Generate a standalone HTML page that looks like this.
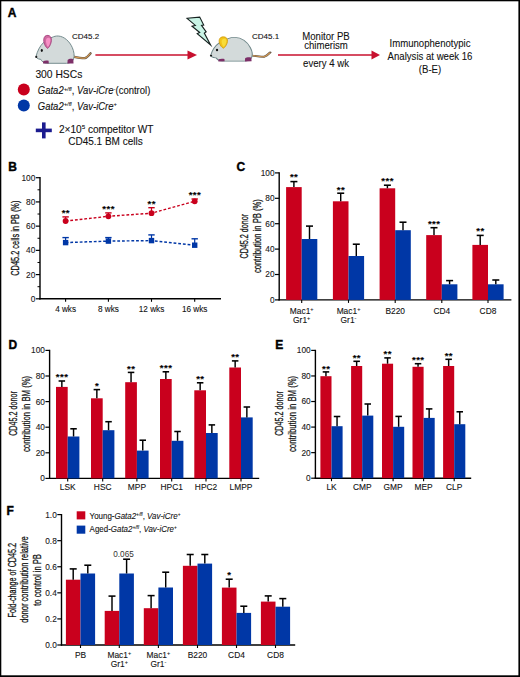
<!DOCTYPE html>
<html><head><meta charset="utf-8"><style>
html,body{margin:0;padding:0;background:#fff;width:520px;height:677px;overflow:hidden;}
svg{display:block;font-family:"Liberation Sans", sans-serif;}
text{stroke:#111;stroke-width:0.1px;}
text.hv{stroke:#111;stroke-width:0.28px;paint-order:stroke;}
</style></head><body>
<svg width="520" height="677" viewBox="0 0 520 677" font-family='"Liberation Sans", sans-serif'>
<rect x="0" y="0" width="520" height="677" fill="#fff"/>
<text x="7.8" y="16.8" font-size="12" text-anchor="start" font-weight="bold" font-style="normal" fill="#000" style="stroke:#000;stroke-width:0.4px">A</text>
<g transform="translate(0,0)">
<path d="M73.2,56.6 C77,57.4 82,58.4 85,58.2 C87,57.6 88.8,55.5 90.6,53.3" fill="none" stroke="#5e5346" stroke-width="2.3" stroke-linecap="round" stroke-linejoin="round"/>
<path d="M73.2,56.6 C77,57.4 82,58.4 85,58.2 C87,57.6 88.6,55.6 90.2,53.7" fill="none" stroke="#d49a55" stroke-width="1.2" stroke-linecap="round"/>
<path d="M36,56.6 C37.2,51.5 39.8,46 43.5,42.6 C46,39.6 49,38.1 52,37.4 C54,36.4 56,35.9 58.2,36 C64,36.4 69.4,41 72.3,47.6 C74,51.6 74.7,55.8 73.6,59 C72.6,61.8 70.2,63.2 66.5,63.3 L46.5,63.3 C43.5,63.2 41.8,61.2 40.8,59.4 C39.3,59.3 37.8,58.8 36.8,58 C36.2,57.6 35.9,57.1 36,56.6 Z" fill="#d3dada" stroke="#6f8789" stroke-width="0.95"/>
<path d="M44.2,37.6 C45,35.4 47.5,34.8 49.6,35.9 C51.6,37 51.8,40 51,42.8 C50.3,45.3 49,47.6 47.6,48.4 C46,47.4 44.6,45 44,42.4 C43.6,40.6 43.6,38.9 44.2,37.6 Z" fill="#cf6aa0" stroke="#a03878" stroke-width="0.8"/>
<path d="M46.6,38.5 C47.6,37.3 49.6,37.4 50.2,39 C50.7,40.6 50.1,43.3 49.1,45.3 C48.6,46.3 48,46.8 47.6,46.6 C46.8,45.4 46.2,43.2 46,41.4 C45.9,40.2 46.1,39.2 46.6,38.5 Z" fill="#f890c6"/>
<ellipse cx="41.8" cy="50.5" rx="1.05" ry="1.4" fill="#111"/>
<circle cx="36.3" cy="56.9" r="1.05" fill="#1a1a1a"/>
<path d="M43.2,61.2 C44.5,60.3 47,60.2 48.6,60.8 L48.8,63.4 L43,63.5 Z" fill="#7d2f68"/>
<path d="M67.6,60 C68.8,58.6 71.6,58.4 73.3,59.2 L73.5,63.4 L67.4,63.5 Z" fill="#7d2f68"/>
</g>
<text x="72" y="38.6" font-size="8" text-anchor="start" font-weight="normal" font-style="normal" fill="#111" >CD45.2</text>
<text x="35.4" y="78" font-size="10.3" text-anchor="start" font-weight="normal" font-style="normal" fill="#111" >300 HSCs</text>
<line x1="95.4" y1="55" x2="189" y2="55" stroke="#c8102e" stroke-width="1.5" />
<path d="M187.5,50.4 L197,55 L187.5,59.6 Z" fill="#c8102e"/>
<path d="M187.1,18.3 L199.7,17.1 L203.7,25.1 L201.5,25.4 L206.2,31.8 L204.3,33.1 L210.6,44.9 L197.2,33.7 L199.7,32.5 L192,26.3 L195.4,25.4 Z" fill="#c9f4e6" stroke="#16211f" stroke-width="1.1" stroke-linejoin="miter" stroke-miterlimit="6"/>
<g transform="translate(171.46,6.006) scale(1.09,0.872)">
<path d="M73.2,56.6 C77,57.4 82,58.4 85,58.2 C87,57.6 88.8,55.5 90.6,53.3" fill="none" stroke="#5e5346" stroke-width="2.3" stroke-linecap="round" stroke-linejoin="round"/>
<path d="M73.2,56.6 C77,57.4 82,58.4 85,58.2 C87,57.6 88.6,55.6 90.2,53.7" fill="none" stroke="#d49a55" stroke-width="1.2" stroke-linecap="round"/>
<path d="M36,56.6 C37.2,51.5 39.8,46 43.5,42.6 C46,39.6 49,38.1 52,37.4 C54,36.4 56,35.9 58.2,36 C64,36.4 69.4,41 72.3,47.6 C74,51.6 74.7,55.8 73.6,59 C72.6,61.8 70.2,63.2 66.5,63.3 L46.5,63.3 C43.5,63.2 41.8,61.2 40.8,59.4 C39.3,59.3 37.8,58.8 36.8,58 C36.2,57.6 35.9,57.1 36,56.6 Z" fill="#d3dada" stroke="#6f8789" stroke-width="0.95"/>
<path d="M44.2,37.6 C45,35.4 47.5,34.8 49.6,35.9 C51.6,37 51.8,40 51,42.8 C50.3,45.3 49,47.6 47.6,48.4 C46,47.4 44.6,45 44,42.4 C43.6,40.6 43.6,38.9 44.2,37.6 Z" fill="#f2c418" stroke="#d09a10" stroke-width="0.8"/>
<path d="M46.6,38.5 C47.6,37.3 49.6,37.4 50.2,39 C50.7,40.6 50.1,43.3 49.1,45.3 C48.6,46.3 48,46.8 47.6,46.6 C46.8,45.4 46.2,43.2 46,41.4 C45.9,40.2 46.1,39.2 46.6,38.5 Z" fill="#f8dc3a"/>
<ellipse cx="41.8" cy="50.5" rx="1.05" ry="1.4" fill="#111"/>
<circle cx="36.3" cy="56.9" r="1.05" fill="#1a1a1a"/>
<path d="M43.2,61.2 C44.5,60.3 47,60.2 48.6,60.8 L48.8,63.4 L43,63.5 Z" fill="#7d2f68"/>
<path d="M67.6,60 C68.8,58.6 71.6,58.4 73.3,59.2 L73.5,63.4 L67.4,63.5 Z" fill="#7d2f68"/>
</g>
<text x="252" y="38.6" font-size="8" text-anchor="start" font-weight="normal" font-style="normal" fill="#111" >CD45.1</text>
<line x1="278" y1="55.1" x2="373" y2="55.1" stroke="#c8102e" stroke-width="1.5" />
<path d="M371.5,50.6 L380,55.1 L371.5,59.6 Z" fill="#c8102e"/>
<text transform="translate(326,40.2) scale(0.873,1)" font-size="11" text-anchor="middle" fill="#111">Monitor PB</text>
<text transform="translate(326,48.6) scale(0.873,1)" font-size="11" text-anchor="middle" fill="#111">chimerism</text>
<text transform="translate(326,67.0) scale(0.873,1)" font-size="11" text-anchor="middle" fill="#111">every 4 wk</text>
<text transform="translate(430,46.8) scale(0.873,1)" font-size="11" text-anchor="middle" fill="#111">Immunophenotypic</text>
<text transform="translate(430,59.7) scale(0.873,1)" font-size="11" text-anchor="middle" fill="#111">Analysis at week 16</text>
<text transform="translate(430,72.5) scale(0.873,1)" font-size="11" text-anchor="middle" fill="#111">(B-E)</text>
<circle cx="23.8" cy="89.4" r="6" fill="#c9001d"/>
<circle cx="23.8" cy="105.6" r="6" fill="#0037a6"/>
<g transform="translate(37.8,94.3) scale(0.95,1)"><text x="0" y="0" font-size="10" fill="#111"><tspan font-style="italic">Gata2</tspan><tspan font-size="6.2" dy="-3.7" font-style="italic">+/fl</tspan><tspan dy="3.7">, </tspan><tspan font-style="italic">Vav-iCre</tspan><tspan font-size="6.2" dy="-3.7">-</tspan><tspan dy="3.7">(control)</tspan></text></g>
<g transform="translate(37.8,110.1) scale(0.95,1)"><text x="0" y="0" font-size="10" fill="#111"><tspan font-style="italic">Gata2</tspan><tspan font-size="6.2" dy="-3.7" font-style="italic">+/fl</tspan><tspan dy="3.7">, </tspan><tspan font-style="italic">Vav-iCre</tspan><tspan font-size="6.2" dy="-3.7">+</tspan></text></g>
<rect x="35.8" y="128.6" width="16" height="3.6" fill="#1b1b8f"/>
<rect x="42" y="122.4" width="3.6" height="16" fill="#1b1b8f"/>
<text x="58.9" y="133" font-size="10.1" fill="#111">2×10<tspan font-size="6.2" dy="-3.7">5</tspan><tspan dy="3.7"> competitor WT</tspan></text>
<text x="105.5" y="145.2" font-size="10" text-anchor="middle" font-weight="normal" font-style="normal" fill="#111" >CD45.1 BM cells</text>
<text x="8.2" y="171" font-size="12" text-anchor="start" font-weight="bold" font-style="normal" fill="#000" style="stroke:#000;stroke-width:0.4px">B</text>
<line x1="40" y1="177.1" x2="40" y2="299.40000000000003" stroke="#000" stroke-width="1.4" />
<line x1="35.8" y1="298.8" x2="40" y2="298.8" stroke="#000" stroke-width="1.2" />
<text x="35.3" y="301.7714" font-size="8.3" text-anchor="end" font-weight="normal" font-style="normal" fill="#1a1a1a" >0</text>
<line x1="35.8" y1="274.58" x2="40" y2="274.58" stroke="#000" stroke-width="1.2" />
<text x="35.3" y="277.5514" font-size="8.3" text-anchor="end" font-weight="normal" font-style="normal" fill="#1a1a1a" >20</text>
<line x1="35.8" y1="250.36" x2="40" y2="250.36" stroke="#000" stroke-width="1.2" />
<text x="35.3" y="253.3314" font-size="8.3" text-anchor="end" font-weight="normal" font-style="normal" fill="#1a1a1a" >40</text>
<line x1="35.8" y1="226.14" x2="40" y2="226.14" stroke="#000" stroke-width="1.2" />
<text x="35.3" y="229.11139999999997" font-size="8.3" text-anchor="end" font-weight="normal" font-style="normal" fill="#1a1a1a" >60</text>
<line x1="35.8" y1="201.92" x2="40" y2="201.92" stroke="#000" stroke-width="1.2" />
<text x="35.3" y="204.89139999999998" font-size="8.3" text-anchor="end" font-weight="normal" font-style="normal" fill="#1a1a1a" >80</text>
<line x1="35.8" y1="177.7" x2="40" y2="177.7" stroke="#000" stroke-width="1.2" />
<text x="35.3" y="180.67139999999998" font-size="8.3" text-anchor="end" font-weight="normal" font-style="normal" fill="#1a1a1a" >100</text>
<line x1="37.5" y1="286.69" x2="40" y2="286.69" stroke="#000" stroke-width="1.0" />
<line x1="37.5" y1="262.47" x2="40" y2="262.47" stroke="#000" stroke-width="1.0" />
<line x1="37.5" y1="238.25" x2="40" y2="238.25" stroke="#000" stroke-width="1.0" />
<line x1="37.5" y1="214.03" x2="40" y2="214.03" stroke="#000" stroke-width="1.0" />
<line x1="37.5" y1="189.81" x2="40" y2="189.81" stroke="#000" stroke-width="1.0" />
<line x1="39.3" y1="298.8" x2="221" y2="298.8" stroke="#000" stroke-width="1.4" />
<line x1="65.6" y1="298.8" x2="65.6" y2="301.8" stroke="#000" stroke-width="1.1" />
<text x="65.6" y="311.5" font-size="8.2" text-anchor="middle" font-weight="normal" font-style="normal" fill="#111" >4 wks</text>
<line x1="108.4" y1="298.8" x2="108.4" y2="301.8" stroke="#000" stroke-width="1.1" />
<text x="108.4" y="311.5" font-size="8.2" text-anchor="middle" font-weight="normal" font-style="normal" fill="#111" >8 wks</text>
<line x1="151.5" y1="298.8" x2="151.5" y2="301.8" stroke="#000" stroke-width="1.1" />
<text x="151.5" y="311.5" font-size="8.2" text-anchor="middle" font-weight="normal" font-style="normal" fill="#111" >12 wks</text>
<line x1="194.7" y1="298.8" x2="194.7" y2="301.8" stroke="#000" stroke-width="1.1" />
<text x="194.7" y="311.5" font-size="8.2" text-anchor="middle" font-weight="normal" font-style="normal" fill="#111" >16 wks</text>
<text class="hv" font-size="11" fill="#111" text-anchor="middle" transform="translate(18.8,238.2) rotate(-90)"><tspan x="0" y="0" textLength="75.2" lengthAdjust="spacingAndGlyphs">CD45.2 cells in PB (%)</tspan></text>
<polyline points="65.6,221 108.4,216.3 151.5,213.2 194.7,201.3" fill="none" stroke="#c9001d" stroke-width="1.45" stroke-dasharray="2.8,1.9"/>
<polyline points="65.6,242.6 108.4,241.1 151.5,240.6 194.7,245.2" fill="none" stroke="#0037a6" stroke-width="1.45" stroke-dasharray="2.8,1.9"/>
<line x1="65.6" y1="221" x2="65.6" y2="216.9" stroke="#c9001d" stroke-width="1.2" />
<line x1="62.39999999999999" y1="216.9" x2="68.8" y2="216.9" stroke="#c9001d" stroke-width="1.4" />
<circle cx="65.6" cy="221" r="2.9" fill="#c9001d"/>
<line x1="108.4" y1="216.3" x2="108.4" y2="212.9" stroke="#c9001d" stroke-width="1.2" />
<line x1="105.2" y1="212.9" x2="111.60000000000001" y2="212.9" stroke="#c9001d" stroke-width="1.4" />
<circle cx="108.4" cy="216.3" r="2.9" fill="#c9001d"/>
<line x1="151.5" y1="213.2" x2="151.5" y2="207.7" stroke="#c9001d" stroke-width="1.2" />
<line x1="148.3" y1="207.7" x2="154.7" y2="207.7" stroke="#c9001d" stroke-width="1.4" />
<circle cx="151.5" cy="213.2" r="2.9" fill="#c9001d"/>
<line x1="194.7" y1="201.3" x2="194.7" y2="199" stroke="#c9001d" stroke-width="1.2" />
<line x1="191.5" y1="199" x2="197.89999999999998" y2="199" stroke="#c9001d" stroke-width="1.4" />
<circle cx="194.7" cy="201.3" r="2.9" fill="#c9001d"/>
<line x1="65.6" y1="242.6" x2="65.6" y2="237.6" stroke="#0037a6" stroke-width="1.2" />
<line x1="62.39999999999999" y1="237.6" x2="68.8" y2="237.6" stroke="#0037a6" stroke-width="1.4" />
<rect x="62.90" y="239.90" width="5.40" height="5.40" fill="#0037a6"/>
<line x1="108.4" y1="241.1" x2="108.4" y2="237.6" stroke="#0037a6" stroke-width="1.2" />
<line x1="105.2" y1="237.6" x2="111.60000000000001" y2="237.6" stroke="#0037a6" stroke-width="1.4" />
<rect x="105.70" y="238.40" width="5.40" height="5.40" fill="#0037a6"/>
<line x1="151.5" y1="240.6" x2="151.5" y2="234.9" stroke="#0037a6" stroke-width="1.2" />
<line x1="148.3" y1="234.9" x2="154.7" y2="234.9" stroke="#0037a6" stroke-width="1.4" />
<rect x="148.80" y="237.90" width="5.40" height="5.40" fill="#0037a6"/>
<line x1="194.7" y1="245.2" x2="194.7" y2="238.8" stroke="#0037a6" stroke-width="1.2" />
<line x1="191.5" y1="238.8" x2="197.89999999999998" y2="238.8" stroke="#0037a6" stroke-width="1.4" />
<rect x="192.00" y="242.50" width="5.40" height="5.40" fill="#0037a6"/>
<text x="65.82" y="216.1" font-size="9.6" text-anchor="middle" font-weight="bold" font-style="normal" fill="#000" letter-spacing="0.45">**</text>
<text x="108.62" y="211.8" font-size="9.6" text-anchor="middle" font-weight="bold" font-style="normal" fill="#000" letter-spacing="0.45">***</text>
<text x="151.72" y="207.4" font-size="9.6" text-anchor="middle" font-weight="bold" font-style="normal" fill="#000" letter-spacing="0.45">**</text>
<text x="194.92" y="197.9" font-size="9.6" text-anchor="middle" font-weight="bold" font-style="normal" fill="#000" letter-spacing="0.45">***</text>
<text x="236.4" y="171.2" font-size="12" text-anchor="start" font-weight="bold" font-style="normal" fill="#000" style="stroke:#000;stroke-width:0.4px">C</text>
<line x1="279.2" y1="172.3" x2="279.2" y2="300.5" stroke="#000" stroke-width="1.4" />
<line x1="275.0" y1="299.9" x2="279.2" y2="299.9" stroke="#000" stroke-width="1.2" />
<text x="274.5" y="302.8714" font-size="8.3" text-anchor="end" font-weight="normal" font-style="normal" fill="#1a1a1a" >0</text>
<line x1="275.0" y1="274.5" x2="279.2" y2="274.5" stroke="#000" stroke-width="1.2" />
<text x="274.5" y="277.4714" font-size="8.3" text-anchor="end" font-weight="normal" font-style="normal" fill="#1a1a1a" >20</text>
<line x1="275.0" y1="249.1" x2="279.2" y2="249.1" stroke="#000" stroke-width="1.2" />
<text x="274.5" y="252.07139999999998" font-size="8.3" text-anchor="end" font-weight="normal" font-style="normal" fill="#1a1a1a" >40</text>
<line x1="275.0" y1="223.7" x2="279.2" y2="223.7" stroke="#000" stroke-width="1.2" />
<text x="274.5" y="226.67139999999998" font-size="8.3" text-anchor="end" font-weight="normal" font-style="normal" fill="#1a1a1a" >60</text>
<line x1="275.0" y1="198.3" x2="279.2" y2="198.3" stroke="#000" stroke-width="1.2" />
<text x="274.5" y="201.2714" font-size="8.3" text-anchor="end" font-weight="normal" font-style="normal" fill="#1a1a1a" >80</text>
<line x1="275.0" y1="172.9" x2="279.2" y2="172.9" stroke="#000" stroke-width="1.2" />
<text x="274.5" y="175.8714" font-size="8.3" text-anchor="end" font-weight="normal" font-style="normal" fill="#1a1a1a" >100</text>
<line x1="278.5" y1="299.9" x2="511.4" y2="299.9" stroke="#000" stroke-width="1.4" />
<rect x="286.10" y="187.10" width="15.60" height="112.80" fill="#c9001d"/>
<rect x="301.70" y="239.00" width="15.60" height="60.90" fill="#0037a6"/>
<line x1="293.9" y1="187.1" x2="293.9" y2="181.6" stroke="#000" stroke-width="1.45" />
<line x1="290.4" y1="181.6" x2="297.4" y2="181.6" stroke="#000" stroke-width="1.55" />
<line x1="309.5" y1="239" x2="309.5" y2="226.1" stroke="#000" stroke-width="1.45" />
<line x1="306.0" y1="226.1" x2="313.0" y2="226.1" stroke="#000" stroke-width="1.55" />
<line x1="301.7" y1="299.9" x2="301.7" y2="302.9" stroke="#000" stroke-width="1.1" />
<rect x="332.90" y="201.30" width="15.60" height="98.60" fill="#c9001d"/>
<rect x="348.50" y="256.00" width="15.60" height="43.90" fill="#0037a6"/>
<line x1="340.7" y1="201.3" x2="340.7" y2="193.2" stroke="#000" stroke-width="1.45" />
<line x1="337.2" y1="193.2" x2="344.2" y2="193.2" stroke="#000" stroke-width="1.55" />
<line x1="356.3" y1="256" x2="356.3" y2="244.2" stroke="#000" stroke-width="1.45" />
<line x1="352.8" y1="244.2" x2="359.8" y2="244.2" stroke="#000" stroke-width="1.55" />
<line x1="348.5" y1="299.9" x2="348.5" y2="302.9" stroke="#000" stroke-width="1.1" />
<rect x="379.60" y="188.30" width="15.60" height="111.60" fill="#c9001d"/>
<rect x="395.20" y="230.20" width="15.60" height="69.70" fill="#0037a6"/>
<line x1="387.4" y1="188.3" x2="387.4" y2="185.2" stroke="#000" stroke-width="1.45" />
<line x1="383.9" y1="185.2" x2="390.9" y2="185.2" stroke="#000" stroke-width="1.55" />
<line x1="403.0" y1="230.2" x2="403.0" y2="222.2" stroke="#000" stroke-width="1.45" />
<line x1="399.5" y1="222.2" x2="406.5" y2="222.2" stroke="#000" stroke-width="1.55" />
<line x1="395.2" y1="299.9" x2="395.2" y2="302.9" stroke="#000" stroke-width="1.1" />
<rect x="426.20" y="235.10" width="15.60" height="64.80" fill="#c9001d"/>
<rect x="441.80" y="284.30" width="15.60" height="15.60" fill="#0037a6"/>
<line x1="434.0" y1="235.1" x2="434.0" y2="227.7" stroke="#000" stroke-width="1.45" />
<line x1="430.5" y1="227.7" x2="437.5" y2="227.7" stroke="#000" stroke-width="1.55" />
<line x1="449.6" y1="284.3" x2="449.6" y2="280.6" stroke="#000" stroke-width="1.45" />
<line x1="446.1" y1="280.6" x2="453.1" y2="280.6" stroke="#000" stroke-width="1.55" />
<line x1="441.8" y1="299.9" x2="441.8" y2="302.9" stroke="#000" stroke-width="1.1" />
<rect x="472.40" y="244.90" width="15.60" height="55.00" fill="#c9001d"/>
<rect x="488.00" y="284.30" width="15.60" height="15.60" fill="#0037a6"/>
<line x1="480.2" y1="244.9" x2="480.2" y2="235.4" stroke="#000" stroke-width="1.45" />
<line x1="476.7" y1="235.4" x2="483.7" y2="235.4" stroke="#000" stroke-width="1.55" />
<line x1="495.8" y1="284.3" x2="495.8" y2="280" stroke="#000" stroke-width="1.45" />
<line x1="492.3" y1="280" x2="499.3" y2="280" stroke="#000" stroke-width="1.55" />
<line x1="488.0" y1="299.9" x2="488.0" y2="302.9" stroke="#000" stroke-width="1.1" />
<text x="301.7" y="313.7" font-size="8.4" text-anchor="middle" fill="#111">Mac1<tspan font-size="5.5" dy="-3">+</tspan></text>
<text x="301.7" y="323.05" font-size="8.4" text-anchor="middle" fill="#111"><tspan>Gr1</tspan><tspan font-size="5.5" dy="-3">+</tspan></text>
<text x="348.5" y="313.7" font-size="8.4" text-anchor="middle" fill="#111">Mac1<tspan font-size="5.5" dy="-3">+</tspan></text>
<text x="348.5" y="323.05" font-size="8.4" text-anchor="middle" fill="#111"><tspan>Gr1</tspan><tspan font-size="5.5" dy="-3">-</tspan></text>
<text x="395.2" y="313.7" font-size="8.4" text-anchor="middle" fill="#111">B220</text>
<text x="441.8" y="313.7" font-size="8.4" text-anchor="middle" fill="#111">CD4</text>
<text x="488.0" y="313.7" font-size="8.4" text-anchor="middle" fill="#111">CD8</text>
<text x="294.12" y="180.1" font-size="9.6" text-anchor="middle" font-weight="bold" font-style="normal" fill="#000" letter-spacing="0.45">**</text>
<text x="340.92" y="192.8" font-size="9.6" text-anchor="middle" font-weight="bold" font-style="normal" fill="#000" letter-spacing="0.45">**</text>
<text x="387.62" y="184.1" font-size="9.6" text-anchor="middle" font-weight="bold" font-style="normal" fill="#000" letter-spacing="0.45">***</text>
<text x="434.22" y="226.6" font-size="9.6" text-anchor="middle" font-weight="bold" font-style="normal" fill="#000" letter-spacing="0.45">***</text>
<text x="480.42" y="234.4" font-size="9.6" text-anchor="middle" font-weight="bold" font-style="normal" fill="#000" letter-spacing="0.45">**</text>
<text class="hv" font-size="11" fill="#111" text-anchor="middle" transform="translate(248.4,236.2) rotate(-90)"><tspan x="0" y="0" textLength="44.4" lengthAdjust="spacingAndGlyphs">CD45.2 donor</tspan><tspan x="0.1" y="13.1" textLength="73.8" lengthAdjust="spacingAndGlyphs">contribution in PB (%)</tspan></text>
<text x="8.6" y="349.2" font-size="12" text-anchor="start" font-weight="bold" font-style="normal" fill="#000" style="stroke:#000;stroke-width:0.4px">D</text>
<line x1="49.6" y1="349.79999999999995" x2="49.6" y2="479.0" stroke="#000" stroke-width="1.4" />
<line x1="45.4" y1="478.4" x2="49.6" y2="478.4" stroke="#000" stroke-width="1.2" />
<text x="44.9" y="481.3714" font-size="8.3" text-anchor="end" font-weight="normal" font-style="normal" fill="#1a1a1a" >0</text>
<line x1="45.4" y1="452.79999999999995" x2="49.6" y2="452.79999999999995" stroke="#000" stroke-width="1.2" />
<text x="44.9" y="455.77139999999997" font-size="8.3" text-anchor="end" font-weight="normal" font-style="normal" fill="#1a1a1a" >20</text>
<line x1="45.4" y1="427.2" x2="49.6" y2="427.2" stroke="#000" stroke-width="1.2" />
<text x="44.9" y="430.1714" font-size="8.3" text-anchor="end" font-weight="normal" font-style="normal" fill="#1a1a1a" >40</text>
<line x1="45.4" y1="401.59999999999997" x2="49.6" y2="401.59999999999997" stroke="#000" stroke-width="1.2" />
<text x="44.9" y="404.5714" font-size="8.3" text-anchor="end" font-weight="normal" font-style="normal" fill="#1a1a1a" >60</text>
<line x1="45.4" y1="376.0" x2="49.6" y2="376.0" stroke="#000" stroke-width="1.2" />
<text x="44.9" y="378.9714" font-size="8.3" text-anchor="end" font-weight="normal" font-style="normal" fill="#1a1a1a" >80</text>
<line x1="45.4" y1="350.4" x2="49.6" y2="350.4" stroke="#000" stroke-width="1.2" />
<text x="44.9" y="353.3714" font-size="8.3" text-anchor="end" font-weight="normal" font-style="normal" fill="#1a1a1a" >100</text>
<line x1="48.9" y1="478.4" x2="259.2" y2="478.4" stroke="#000" stroke-width="1.4" />
<rect x="56.00" y="386.90" width="11.70" height="91.50" fill="#c9001d"/>
<rect x="67.70" y="436.50" width="11.70" height="41.90" fill="#0037a6"/>
<line x1="61.85" y1="386.9" x2="61.85" y2="381" stroke="#000" stroke-width="1.45" />
<line x1="58.6" y1="381" x2="65.1" y2="381" stroke="#000" stroke-width="1.55" />
<line x1="73.55" y1="436.5" x2="73.55" y2="428.8" stroke="#000" stroke-width="1.45" />
<line x1="70.3" y1="428.8" x2="76.8" y2="428.8" stroke="#000" stroke-width="1.55" />
<line x1="67.7" y1="478.4" x2="67.7" y2="481.4" stroke="#000" stroke-width="1.1" />
<rect x="91.00" y="398.30" width="11.70" height="80.10" fill="#c9001d"/>
<rect x="102.70" y="430.20" width="11.70" height="48.20" fill="#0037a6"/>
<line x1="96.85000000000001" y1="398.3" x2="96.85000000000001" y2="389.6" stroke="#000" stroke-width="1.45" />
<line x1="93.60000000000001" y1="389.6" x2="100.10000000000001" y2="389.6" stroke="#000" stroke-width="1.55" />
<line x1="108.55" y1="430.2" x2="108.55" y2="421.7" stroke="#000" stroke-width="1.45" />
<line x1="105.3" y1="421.7" x2="111.8" y2="421.7" stroke="#000" stroke-width="1.55" />
<line x1="102.7" y1="478.4" x2="102.7" y2="481.4" stroke="#000" stroke-width="1.1" />
<rect x="125.20" y="382.20" width="11.70" height="96.20" fill="#c9001d"/>
<rect x="136.90" y="450.60" width="11.70" height="27.80" fill="#0037a6"/>
<line x1="131.05" y1="382.2" x2="131.05" y2="372.4" stroke="#000" stroke-width="1.45" />
<line x1="127.80000000000001" y1="372.4" x2="134.3" y2="372.4" stroke="#000" stroke-width="1.55" />
<line x1="142.75" y1="450.6" x2="142.75" y2="440.2" stroke="#000" stroke-width="1.45" />
<line x1="139.5" y1="440.2" x2="146.0" y2="440.2" stroke="#000" stroke-width="1.55" />
<line x1="136.9" y1="478.4" x2="136.9" y2="481.4" stroke="#000" stroke-width="1.1" />
<rect x="160.00" y="379.00" width="11.70" height="99.40" fill="#c9001d"/>
<rect x="171.70" y="440.80" width="11.70" height="37.60" fill="#0037a6"/>
<line x1="165.85" y1="379" x2="165.85" y2="371.8" stroke="#000" stroke-width="1.45" />
<line x1="162.6" y1="371.8" x2="169.1" y2="371.8" stroke="#000" stroke-width="1.55" />
<line x1="177.54999999999998" y1="440.8" x2="177.54999999999998" y2="431.5" stroke="#000" stroke-width="1.45" />
<line x1="174.29999999999998" y1="431.5" x2="180.79999999999998" y2="431.5" stroke="#000" stroke-width="1.55" />
<line x1="171.7" y1="478.4" x2="171.7" y2="481.4" stroke="#000" stroke-width="1.1" />
<rect x="194.30" y="390.30" width="11.70" height="88.10" fill="#c9001d"/>
<rect x="206.00" y="433.00" width="11.70" height="45.40" fill="#0037a6"/>
<line x1="200.15" y1="390.3" x2="200.15" y2="382.8" stroke="#000" stroke-width="1.45" />
<line x1="196.9" y1="382.8" x2="203.4" y2="382.8" stroke="#000" stroke-width="1.55" />
<line x1="211.85" y1="433" x2="211.85" y2="424.9" stroke="#000" stroke-width="1.45" />
<line x1="208.6" y1="424.9" x2="215.1" y2="424.9" stroke="#000" stroke-width="1.55" />
<line x1="206.0" y1="478.4" x2="206.0" y2="481.4" stroke="#000" stroke-width="1.1" />
<rect x="229.30" y="367.50" width="11.70" height="110.90" fill="#c9001d"/>
<rect x="241.00" y="417.40" width="11.70" height="61.00" fill="#0037a6"/>
<line x1="235.15" y1="367.5" x2="235.15" y2="360.9" stroke="#000" stroke-width="1.45" />
<line x1="231.9" y1="360.9" x2="238.4" y2="360.9" stroke="#000" stroke-width="1.55" />
<line x1="246.85" y1="417.4" x2="246.85" y2="407" stroke="#000" stroke-width="1.45" />
<line x1="243.6" y1="407" x2="250.1" y2="407" stroke="#000" stroke-width="1.55" />
<line x1="241.0" y1="478.4" x2="241.0" y2="481.4" stroke="#000" stroke-width="1.1" />
<text x="67.7" y="490.4" font-size="8.4" text-anchor="middle" fill="#111">LSK</text>
<text x="102.7" y="490.4" font-size="8.4" text-anchor="middle" fill="#111">HSC</text>
<text x="136.9" y="490.4" font-size="8.4" text-anchor="middle" fill="#111">MPP</text>
<text x="171.7" y="490.4" font-size="8.4" text-anchor="middle" fill="#111">HPC1</text>
<text x="206.0" y="490.4" font-size="8.4" text-anchor="middle" fill="#111">HPC2</text>
<text x="241.0" y="490.4" font-size="8.4" text-anchor="middle" fill="#111">LMPP</text>
<text x="62.07" y="379.9" font-size="9.6" text-anchor="middle" font-weight="bold" font-style="normal" fill="#000" letter-spacing="0.45">***</text>
<text x="97.07" y="388.8" font-size="9.6" text-anchor="middle" font-weight="bold" font-style="normal" fill="#000" letter-spacing="0.45">*</text>
<text x="131.27" y="371.6" font-size="9.6" text-anchor="middle" font-weight="bold" font-style="normal" fill="#000" letter-spacing="0.45">**</text>
<text x="166.07" y="371.1" font-size="9.6" text-anchor="middle" font-weight="bold" font-style="normal" fill="#000" letter-spacing="0.45">***</text>
<text x="200.37" y="382.1" font-size="9.6" text-anchor="middle" font-weight="bold" font-style="normal" fill="#000" letter-spacing="0.45">**</text>
<text x="235.37" y="360.4" font-size="9.6" text-anchor="middle" font-weight="bold" font-style="normal" fill="#000" letter-spacing="0.45">**</text>
<text class="hv" font-size="11" fill="#111" text-anchor="middle" transform="translate(16.6,413.5) rotate(-90)"><tspan x="0" y="0" textLength="44.6" lengthAdjust="spacingAndGlyphs">CD45.2 donor</tspan><tspan x="-0.4" y="13.0" textLength="76.2" lengthAdjust="spacingAndGlyphs">contribution in BM (%)</tspan></text>
<text x="275.2" y="349.2" font-size="12" text-anchor="start" font-weight="bold" font-style="normal" fill="#000" style="stroke:#000;stroke-width:0.4px">E</text>
<line x1="315.4" y1="349.79999999999995" x2="315.4" y2="478.8" stroke="#000" stroke-width="1.4" />
<line x1="311.2" y1="478.2" x2="315.4" y2="478.2" stroke="#000" stroke-width="1.2" />
<text x="310.7" y="481.1714" font-size="8.3" text-anchor="end" font-weight="normal" font-style="normal" fill="#1a1a1a" >0</text>
<line x1="311.2" y1="452.64" x2="315.4" y2="452.64" stroke="#000" stroke-width="1.2" />
<text x="310.7" y="455.6114" font-size="8.3" text-anchor="end" font-weight="normal" font-style="normal" fill="#1a1a1a" >20</text>
<line x1="311.2" y1="427.08" x2="315.4" y2="427.08" stroke="#000" stroke-width="1.2" />
<text x="310.7" y="430.0514" font-size="8.3" text-anchor="end" font-weight="normal" font-style="normal" fill="#1a1a1a" >40</text>
<line x1="311.2" y1="401.52" x2="315.4" y2="401.52" stroke="#000" stroke-width="1.2" />
<text x="310.7" y="404.4914" font-size="8.3" text-anchor="end" font-weight="normal" font-style="normal" fill="#1a1a1a" >60</text>
<line x1="311.2" y1="375.96" x2="315.4" y2="375.96" stroke="#000" stroke-width="1.2" />
<text x="310.7" y="378.9314" font-size="8.3" text-anchor="end" font-weight="normal" font-style="normal" fill="#1a1a1a" >80</text>
<line x1="311.2" y1="350.4" x2="315.4" y2="350.4" stroke="#000" stroke-width="1.2" />
<text x="310.7" y="353.3714" font-size="8.3" text-anchor="end" font-weight="normal" font-style="normal" fill="#1a1a1a" >100</text>
<line x1="314.7" y1="478.2" x2="471.2" y2="478.2" stroke="#000" stroke-width="1.4" />
<rect x="320.40" y="376.20" width="11.10" height="102.00" fill="#c9001d"/>
<rect x="331.50" y="426.20" width="11.10" height="52.00" fill="#0037a6"/>
<line x1="325.95" y1="376.2" x2="325.95" y2="371.9" stroke="#000" stroke-width="1.45" />
<line x1="322.7" y1="371.9" x2="329.2" y2="371.9" stroke="#000" stroke-width="1.55" />
<line x1="337.05" y1="426.2" x2="337.05" y2="416.5" stroke="#000" stroke-width="1.45" />
<line x1="333.8" y1="416.5" x2="340.3" y2="416.5" stroke="#000" stroke-width="1.55" />
<line x1="331.5" y1="478.2" x2="331.5" y2="481.2" stroke="#000" stroke-width="1.1" />
<rect x="351.10" y="366.00" width="11.10" height="112.20" fill="#c9001d"/>
<rect x="362.20" y="415.60" width="11.10" height="62.60" fill="#0037a6"/>
<line x1="356.65" y1="366" x2="356.65" y2="361.3" stroke="#000" stroke-width="1.45" />
<line x1="353.4" y1="361.3" x2="359.9" y2="361.3" stroke="#000" stroke-width="1.55" />
<line x1="367.75" y1="415.6" x2="367.75" y2="404" stroke="#000" stroke-width="1.45" />
<line x1="364.5" y1="404" x2="371.0" y2="404" stroke="#000" stroke-width="1.55" />
<line x1="362.2" y1="478.2" x2="362.2" y2="481.2" stroke="#000" stroke-width="1.1" />
<rect x="382.00" y="363.70" width="11.10" height="114.50" fill="#c9001d"/>
<rect x="393.10" y="426.80" width="11.10" height="51.40" fill="#0037a6"/>
<line x1="387.55" y1="363.7" x2="387.55" y2="357.9" stroke="#000" stroke-width="1.45" />
<line x1="384.3" y1="357.9" x2="390.8" y2="357.9" stroke="#000" stroke-width="1.55" />
<line x1="398.65000000000003" y1="426.8" x2="398.65000000000003" y2="416.4" stroke="#000" stroke-width="1.45" />
<line x1="395.40000000000003" y1="416.4" x2="401.90000000000003" y2="416.4" stroke="#000" stroke-width="1.55" />
<line x1="393.1" y1="478.2" x2="393.1" y2="481.2" stroke="#000" stroke-width="1.1" />
<rect x="412.50" y="366.80" width="11.10" height="111.40" fill="#c9001d"/>
<rect x="423.60" y="417.90" width="11.10" height="60.30" fill="#0037a6"/>
<line x1="418.05" y1="366.8" x2="418.05" y2="363.7" stroke="#000" stroke-width="1.45" />
<line x1="414.8" y1="363.7" x2="421.3" y2="363.7" stroke="#000" stroke-width="1.55" />
<line x1="429.15000000000003" y1="417.9" x2="429.15000000000003" y2="408.9" stroke="#000" stroke-width="1.45" />
<line x1="425.90000000000003" y1="408.9" x2="432.40000000000003" y2="408.9" stroke="#000" stroke-width="1.55" />
<line x1="423.6" y1="478.2" x2="423.6" y2="481.2" stroke="#000" stroke-width="1.1" />
<rect x="443.10" y="366.00" width="11.10" height="112.20" fill="#c9001d"/>
<rect x="454.20" y="424.20" width="11.10" height="54.00" fill="#0037a6"/>
<line x1="448.65" y1="366" x2="448.65" y2="359.3" stroke="#000" stroke-width="1.45" />
<line x1="445.4" y1="359.3" x2="451.9" y2="359.3" stroke="#000" stroke-width="1.55" />
<line x1="459.75" y1="424.2" x2="459.75" y2="411.8" stroke="#000" stroke-width="1.45" />
<line x1="456.5" y1="411.8" x2="463.0" y2="411.8" stroke="#000" stroke-width="1.55" />
<line x1="454.2" y1="478.2" x2="454.2" y2="481.2" stroke="#000" stroke-width="1.1" />
<text x="331.5" y="490.4" font-size="8.4" text-anchor="middle" fill="#111">LK</text>
<text x="362.2" y="490.4" font-size="8.4" text-anchor="middle" fill="#111">CMP</text>
<text x="393.1" y="490.4" font-size="8.4" text-anchor="middle" fill="#111">GMP</text>
<text x="423.6" y="490.4" font-size="8.4" text-anchor="middle" fill="#111">MEP</text>
<text x="454.2" y="490.4" font-size="8.4" text-anchor="middle" fill="#111">CLP</text>
<text x="326.17" y="371.5" font-size="9.6" text-anchor="middle" font-weight="bold" font-style="normal" fill="#000" letter-spacing="0.45">**</text>
<text x="356.87" y="361.3" font-size="9.6" text-anchor="middle" font-weight="bold" font-style="normal" fill="#000" letter-spacing="0.45">**</text>
<text x="387.77" y="357.0" font-size="9.6" text-anchor="middle" font-weight="bold" font-style="normal" fill="#000" letter-spacing="0.45">**</text>
<text x="418.27" y="362.6" font-size="9.6" text-anchor="middle" font-weight="bold" font-style="normal" fill="#000" letter-spacing="0.45">***</text>
<text x="448.87" y="358.6" font-size="9.6" text-anchor="middle" font-weight="bold" font-style="normal" fill="#000" letter-spacing="0.45">**</text>
<text class="hv" font-size="11" fill="#111" text-anchor="middle" transform="translate(283.0,413.5) rotate(-90)"><tspan x="0" y="0" textLength="44.6" lengthAdjust="spacingAndGlyphs">CD45.2 donor</tspan><tspan x="-0.4" y="13.2" textLength="76.2" lengthAdjust="spacingAndGlyphs">contribution in BM (%)</tspan></text>
<text x="6.6" y="514.8" font-size="12" text-anchor="start" font-weight="bold" font-style="normal" fill="#000" style="stroke:#000;stroke-width:0.4px">F</text>
<line x1="61.5" y1="514.0" x2="61.5" y2="645.6" stroke="#000" stroke-width="1.4" />
<line x1="57.3" y1="645.0" x2="61.5" y2="645.0" stroke="#000" stroke-width="1.2" />
<text x="56.8" y="647.9714" font-size="8.3" text-anchor="end" font-weight="normal" font-style="normal" fill="#1a1a1a" >0.0</text>
<line x1="57.3" y1="618.92" x2="61.5" y2="618.92" stroke="#000" stroke-width="1.2" />
<text x="56.8" y="621.8914" font-size="8.3" text-anchor="end" font-weight="normal" font-style="normal" fill="#1a1a1a" >0.2</text>
<line x1="57.3" y1="592.84" x2="61.5" y2="592.84" stroke="#000" stroke-width="1.2" />
<text x="56.8" y="595.8114" font-size="8.3" text-anchor="end" font-weight="normal" font-style="normal" fill="#1a1a1a" >0.4</text>
<line x1="57.3" y1="566.76" x2="61.5" y2="566.76" stroke="#000" stroke-width="1.2" />
<text x="56.8" y="569.7314" font-size="8.3" text-anchor="end" font-weight="normal" font-style="normal" fill="#1a1a1a" >0.6</text>
<line x1="57.3" y1="540.6800000000001" x2="61.5" y2="540.6800000000001" stroke="#000" stroke-width="1.2" />
<text x="56.8" y="543.6514000000001" font-size="8.3" text-anchor="end" font-weight="normal" font-style="normal" fill="#1a1a1a" >0.8</text>
<line x1="57.3" y1="514.6" x2="61.5" y2="514.6" stroke="#000" stroke-width="1.2" />
<text x="56.8" y="517.5714" font-size="8.3" text-anchor="end" font-weight="normal" font-style="normal" fill="#1a1a1a" >1.0</text>
<line x1="60.8" y1="645.0" x2="295.2" y2="645.0" stroke="#000" stroke-width="1.4" />
<rect x="65.90" y="579.70" width="14.60" height="65.30" fill="#c9001d"/>
<rect x="80.50" y="573.50" width="14.60" height="71.50" fill="#0037a6"/>
<line x1="73.2" y1="579.7" x2="73.2" y2="568.9" stroke="#000" stroke-width="1.45" />
<line x1="69.7" y1="568.9" x2="76.7" y2="568.9" stroke="#000" stroke-width="1.55" />
<line x1="87.8" y1="573.5" x2="87.8" y2="565.2" stroke="#000" stroke-width="1.45" />
<line x1="84.3" y1="565.2" x2="91.3" y2="565.2" stroke="#000" stroke-width="1.55" />
<line x1="80.5" y1="645.0" x2="80.5" y2="648.0" stroke="#000" stroke-width="1.1" />
<rect x="104.70" y="610.90" width="14.60" height="34.10" fill="#c9001d"/>
<rect x="119.30" y="573.50" width="14.60" height="71.50" fill="#0037a6"/>
<line x1="112.0" y1="610.9" x2="112.0" y2="596.1" stroke="#000" stroke-width="1.45" />
<line x1="108.5" y1="596.1" x2="115.5" y2="596.1" stroke="#000" stroke-width="1.55" />
<line x1="126.6" y1="573.5" x2="126.6" y2="559.2" stroke="#000" stroke-width="1.45" />
<line x1="123.1" y1="559.2" x2="130.1" y2="559.2" stroke="#000" stroke-width="1.55" />
<line x1="119.3" y1="645.0" x2="119.3" y2="648.0" stroke="#000" stroke-width="1.1" />
<rect x="143.80" y="608.20" width="14.60" height="36.80" fill="#c9001d"/>
<rect x="158.40" y="587.50" width="14.60" height="57.50" fill="#0037a6"/>
<line x1="151.1" y1="608.2" x2="151.1" y2="595.6" stroke="#000" stroke-width="1.45" />
<line x1="147.6" y1="595.6" x2="154.6" y2="595.6" stroke="#000" stroke-width="1.55" />
<line x1="165.70000000000002" y1="587.5" x2="165.70000000000002" y2="572.2" stroke="#000" stroke-width="1.45" />
<line x1="162.20000000000002" y1="572.2" x2="169.20000000000002" y2="572.2" stroke="#000" stroke-width="1.55" />
<line x1="158.4" y1="645.0" x2="158.4" y2="648.0" stroke="#000" stroke-width="1.1" />
<rect x="182.90" y="565.80" width="14.60" height="79.20" fill="#c9001d"/>
<rect x="197.50" y="563.60" width="14.60" height="81.40" fill="#0037a6"/>
<line x1="190.2" y1="565.8" x2="190.2" y2="554.5" stroke="#000" stroke-width="1.45" />
<line x1="186.7" y1="554.5" x2="193.7" y2="554.5" stroke="#000" stroke-width="1.55" />
<line x1="204.8" y1="563.6" x2="204.8" y2="554.5" stroke="#000" stroke-width="1.45" />
<line x1="201.3" y1="554.5" x2="208.3" y2="554.5" stroke="#000" stroke-width="1.55" />
<line x1="197.5" y1="645.0" x2="197.5" y2="648.0" stroke="#000" stroke-width="1.1" />
<rect x="221.90" y="587.60" width="14.60" height="57.40" fill="#c9001d"/>
<rect x="236.50" y="612.90" width="14.60" height="32.10" fill="#0037a6"/>
<line x1="229.2" y1="587.6" x2="229.2" y2="579.2" stroke="#000" stroke-width="1.45" />
<line x1="225.7" y1="579.2" x2="232.7" y2="579.2" stroke="#000" stroke-width="1.55" />
<line x1="243.8" y1="612.9" x2="243.8" y2="606.2" stroke="#000" stroke-width="1.45" />
<line x1="240.3" y1="606.2" x2="247.3" y2="606.2" stroke="#000" stroke-width="1.55" />
<line x1="236.5" y1="645.0" x2="236.5" y2="648.0" stroke="#000" stroke-width="1.1" />
<rect x="260.90" y="601.60" width="14.60" height="43.40" fill="#c9001d"/>
<rect x="275.50" y="606.70" width="14.60" height="38.30" fill="#0037a6"/>
<line x1="268.2" y1="601.6" x2="268.2" y2="595.9" stroke="#000" stroke-width="1.45" />
<line x1="264.7" y1="595.9" x2="271.7" y2="595.9" stroke="#000" stroke-width="1.55" />
<line x1="282.8" y1="606.7" x2="282.8" y2="598.6" stroke="#000" stroke-width="1.45" />
<line x1="279.3" y1="598.6" x2="286.3" y2="598.6" stroke="#000" stroke-width="1.55" />
<line x1="275.5" y1="645.0" x2="275.5" y2="648.0" stroke="#000" stroke-width="1.1" />
<text x="80.5" y="657.8" font-size="8.4" text-anchor="middle" fill="#111">PB</text>
<text x="119.3" y="657.8" font-size="8.4" text-anchor="middle" fill="#111">Mac1<tspan font-size="5.5" dy="-3">+</tspan></text>
<text x="119.3" y="667.15" font-size="8.4" text-anchor="middle" fill="#111"><tspan>Gr1</tspan><tspan font-size="5.5" dy="-3">+</tspan></text>
<text x="158.4" y="657.8" font-size="8.4" text-anchor="middle" fill="#111">Mac1<tspan font-size="5.5" dy="-3">+</tspan></text>
<text x="158.4" y="667.15" font-size="8.4" text-anchor="middle" fill="#111"><tspan>Gr1</tspan><tspan font-size="5.5" dy="-3">-</tspan></text>
<text x="197.5" y="657.8" font-size="8.4" text-anchor="middle" fill="#111">B220</text>
<text x="236.5" y="657.8" font-size="8.4" text-anchor="middle" fill="#111">CD4</text>
<text x="275.5" y="657.8" font-size="8.4" text-anchor="middle" fill="#111">CD8</text>
<text x="229.42" y="577.9" font-size="9.6" text-anchor="middle" font-weight="bold" font-style="normal" fill="#000" letter-spacing="0.45">*</text>
<text x="123.5" y="556.5" font-size="8.2" text-anchor="middle" font-weight="normal" font-style="normal" fill="#333" style="stroke:none">0.065</text>
<rect x="76.7" y="511.3" width="8.6" height="8.1" fill="#c9001d"/>
<rect x="76.7" y="525.6" width="8.6" height="8.1" fill="#0037a6"/>
<text transform="translate(89.6,518.8) scale(0.925,1)" font-size="8.6" fill="#111">Young-<tspan font-style="italic">Gata2</tspan><tspan font-size="5.2" dy="-3" font-style="italic">+/fl</tspan><tspan dy="3">, </tspan><tspan font-style="italic">Vav-iCre</tspan><tspan font-size="5.2" dy="-3">+</tspan></text>
<text transform="translate(89.6,531.8) scale(0.925,1)" font-size="8.6" fill="#111">Aged-<tspan font-style="italic">Gata2</tspan><tspan font-size="5.2" dy="-3" font-style="italic">+/fl</tspan><tspan dy="3">, </tspan><tspan font-style="italic">Vav-iCre</tspan><tspan font-size="5.2" dy="-3">+</tspan></text>
<text class="hv" font-size="11" fill="#111" text-anchor="middle" transform="translate(15.8,580.2) rotate(-90)"><tspan x="0" y="0" textLength="74.6" lengthAdjust="spacingAndGlyphs">Fold-change of CD45.2</tspan><tspan x="0.7" y="12.6" textLength="86.5" lengthAdjust="spacingAndGlyphs">donor contribution relative</tspan><tspan x="0.3" y="25.1" textLength="51.7" lengthAdjust="spacingAndGlyphs">to control in PB</tspan></text>
<rect x="0" y="0" width="520" height="1.3" fill="#000"/>
<rect x="0" y="0" width="1.3" height="677" fill="#000"/>
<rect x="518.4" y="0" width="1.6" height="677" fill="#000"/>
<rect x="0" y="675.3" width="520" height="1.7" fill="#000"/>
</svg>
</body></html>
